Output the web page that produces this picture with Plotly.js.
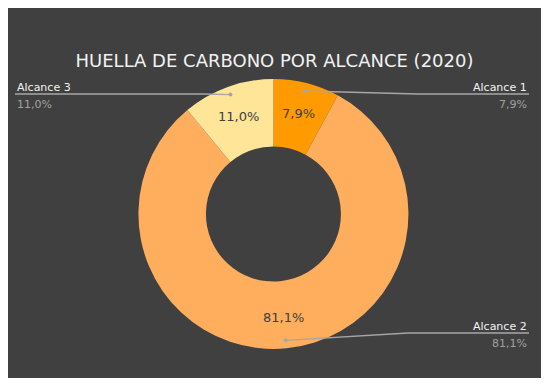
<!DOCTYPE html>
<html>
<head>
<meta charset="utf-8">
<script src="https://cdn.plot.ly/plotly-3.0.1.min.js"></script>
<style>
  html, body { margin: 0; padding: 0; background: #ffffff; width: 550px; height: 387px; overflow: hidden; }
  #chart { position: absolute; left: 8px; top: 8px; width: 533px; height: 370px; }
</style>
</head>
<body>
<div id="chart"></div>
<script>
// ---- data ----
const labels = ["Alcance 1", "Alcance 2", "Alcance 3"];
const values = [7.9, 81.1, 11.0];
const colors = ["#FF9A00", "#FFAE5E", "#FFE597"];
const chartTitle = "HUELLA DE CARBONO POR ALCANCE (2020)";

// ---- layout geometry (styling) ----
const W = 533, H = 370;
const M = {l: 0, r: 0, t: 71, b: 29};
const plotW = W - M.l - M.r, plotH = H - M.t - M.b;
const domX = [0, 0.996];
const fmt = v => v.toFixed(1).replace('.', ',') + '%';
const FONT = 'DejaVu Sans, Verdana, sans-serif';

// convert figure pixel to paper coords
const px = x => (x - M.l) / plotW;
const py = y => 1 - (y - M.t) / plotH;

// pie geometry in figure pixels
const cx = M.l + plotW * (domX[0] + domX[1]) / 2;
const cy = M.t + plotH / 2;
const R = Math.min(plotW * (domX[1] - domX[0]), plotH) / 2;

// positions derived from the data (clockwise from 12 o'clock)
const total = values.reduce((a, b) => a + b, 0);
let cum = 0;
const mids = values.map(v => {
  const mid = (cum + v / 2) / total * 2 * Math.PI;
  cum += v;
  return mid;
});
const polar = (a, f) => ({x: cx + f * R * Math.sin(a), y: cy - f * R * Math.cos(a)});
const dots = mids.map(a => polar(a, 0.94));
const inner = mids.map(a => polar(a, 0.77));

// label placement (styling): side, line y, elbow x
const labelPos = [
  {side: 'right', lineY: 86, elbowX: 410},
  {side: 'right', lineY: 325, elbowX: 400},
  {side: 'left',  lineY: 86, elbowX: 195}
];
const leftX = 7, rightX = 521;

const shapes = [];
const annotations = [];
labels.forEach((lab, i) => {
  const p = labelPos[i], d = dots[i];
  const endX = p.side === 'right' ? rightX : leftX;
  const path = `M ${px(d.x)},${py(d.y)} L ${px(p.elbowX)},${py(p.lineY)} L ${px(endX)},${py(p.lineY)}`;
  shapes.push({type: 'path', xref: 'paper', yref: 'paper', path: path,
    line: {color: '#A6A6A6', width: 1.3}});
  shapes.push({type: 'circle', xref: 'paper', yref: 'paper',
    x0: px(d.x - 2), x1: px(d.x + 2), y0: py(d.y + 2), y1: py(d.y - 2),
    fillcolor: '#A6A6A6', line: {width: 0}});
  annotations.push({xref: 'paper', yref: 'paper', x: px(endX), y: py(p.lineY + 2),
    xanchor: p.side, yanchor: 'bottom', showarrow: false, text: lab,
    font: {family: FONT, size: 11, color: '#F2F2F2'}});
  annotations.push({xref: 'paper', yref: 'paper', x: px(endX), y: py(p.lineY + 2),
    xanchor: p.side, yanchor: 'top', showarrow: false, text: fmt(values[i]),
    font: {family: FONT, size: 11, color: '#A0A0A0'}});
  annotations.push({xref: 'paper', yref: 'paper', x: px(inner[i].x), y: py(inner[i].y),
    xanchor: 'center', yanchor: 'middle', showarrow: false, text: fmt(values[i]),
    font: {family: FONT, size: 13, color: '#404040'}});
});

const trace = {
  type: 'pie',
  labels: labels,
  values: values,
  hole: 0.5,
  sort: false,
  direction: 'clockwise',
  rotation: 0,
  domain: {x: domX, y: [0, 1]},
  marker: {colors: colors, line: {width: 0}},
  textinfo: 'none',
  hoverinfo: 'label+percent',
  showlegend: false
};

const layout = {
  width: W, height: H,
  margin: M,
  paper_bgcolor: '#404040',
  plot_bgcolor: '#404040',
  showlegend: false,
  title: {text: chartTitle, x: 0.5, xanchor: 'center', xref: 'paper',
    y: 1 - 52.5 / H, yref: 'container', yanchor: 'middle',
    font: {family: FONT, size: 18, color: '#F2F2F2'}},
  shapes: shapes,
  annotations: annotations
};

Plotly.newPlot('chart', [trace], layout, {displayModeBar: false, staticPlot: true});
</script>
</body>
</html>
